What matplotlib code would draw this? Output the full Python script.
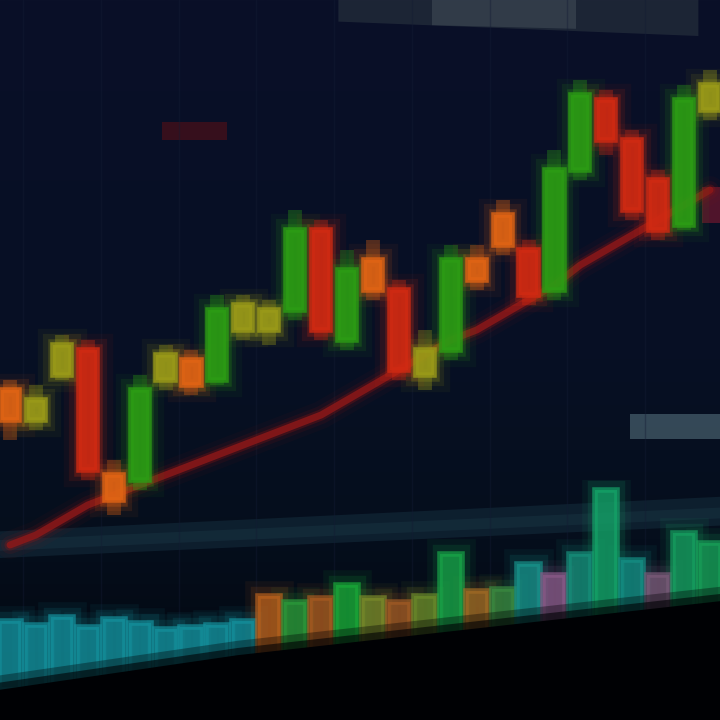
import matplotlib
matplotlib.use("Agg")
import matplotlib.pyplot as plt
import numpy as np
from matplotlib.colors import LinearSegmentedColormap

# ---- data ----
opens  = [73, 70, 74.5, 77, 64.5, 64, 74, 76, 74, 79, 79, 81, 89, 78, 86, 83, 74.5, 77, 86, 90.5, 87, 83, 95, 102, 98, 94, 89.5, 101]
closes = [70, 72, 77.5, 65, 62, 73, 76.5, 73.5, 81, 81.5, 81, 89, 79, 85, 83, 75, 77, 86, 84, 87.5, 82.5, 95, 102.5, 98, 91, 89, 102, 103.5]
highs  = [74, 73.5, 78.5, 78, 66, 74.5, 77.5, 77, 82.5, 82.5, 82, 91, 90, 87, 88, 84, 79, 87.5, 87.5, 92, 88, 97, 104, 103, 99, 95, 103.5, 105]
lows   = [68, 69, 74, 64, 60.5, 63, 73, 72.5, 73.5, 78, 77.5, 80, 78, 77, 82, 74, 73, 76, 83, 86.5, 81.5, 82, 94, 96.5, 90, 88, 89, 100]
moving_avg = [57.5, 58.5, 60, 61.5, 62.5, 63.5, 64.5, 65.5, 66.5, 67.5, 68.5, 69.5, 70.5, 72, 73.5, 75, 76.5, 78, 79, 80.5, 82, 83.5, 85.5, 87, 88.5, 90, 91.5, 93]
volumes = [33, 31, 35, 30, 34, 32, 29, 30, 31, 33, 45, 42, 44, 50, 44, 42, 45, 65, 47, 48, 60, 55, 65, 95, 62, 55, 75, 70]
volume_colors = ['#14909c'] * 10 + ['#b8601c', '#2a9a3a', '#a85a20', '#18a838', '#7a8a2a', '#a05a24', '#6a8a2a',
                                     '#18a448', '#a06a24', '#3a8a40', '#17928a', '#8a5a88', '#168f7a', '#14a468',
                                     '#148f84', '#7a5a78', '#16a060', '#18a058']

def candle_color(o, c):
    d = c - o
    if d > 3:
        return '#2c9c14'
    if d > 0:
        return '#9a9a18'
    if d >= -3:
        return '#e06414'
    return '#d02a12'

n = len(opens)
x = np.arange(n)

fig = plt.figure(figsize=(7.2, 7.2), dpi=100)
fig.patch.set_facecolor('#000000')

# background axes
bg = fig.add_axes([0, 0, 1, 1])
bg.set_xlim(0, 1); bg.set_ylim(0, 1)
grad = np.linspace(0, 1, 256).reshape(-1, 1)
cmap = LinearSegmentedColormap.from_list('bgc', ['#02060c', '#050e1c', '#071024', '#080f26', '#0a1028'])
bg.imshow(grad, extent=[0, 1, 0, 1], aspect='auto', cmap=cmap, origin='lower', zorder=0)
# separator band between panels (slightly tilted)
bg.fill([0, 1, 1, 0], [0.225, 0.27, 0.31, 0.262], color='#163040', alpha=0.5, lw=0, zorder=1)
bg.fill([0, 1, 1, 0], [0.235, 0.28, 0.295, 0.25], color='#1e3c4a', alpha=0.35, lw=0, zorder=1)
# top UI band
bg.fill([0.47, 0.97, 0.97, 0.47], [0.97, 0.95, 1.0, 1.0], color='#2a3440', alpha=0.6, lw=0, zorder=1)
bg.fill([0.6, 0.8, 0.8, 0.6], [0.965, 0.96, 1.0, 1.0], color='#46525c', alpha=0.5, lw=0, zorder=1)
# price label boxes
bg.add_patch(plt.Rectangle((0.225, 0.805), 0.09, 0.025, color='#4a1018', alpha=0.7, lw=0, zorder=1))
bg.add_patch(plt.Rectangle((0.875, 0.39), 0.125, 0.035, color='#5a7884', alpha=0.55, lw=0, zorder=1))
bg.add_patch(plt.Rectangle((0.975, 0.69), 0.025, 0.05, color='#801830', alpha=0.6, lw=0, zorder=1))
bg.axis('off')

# price axes
ax = fig.add_axes([0, 0, 1, 1])
ax.patch.set_alpha(0)
ax.set_xlim(-0.386, 27.386)
ax.set_ylim(40, 112)
for gx in np.arange(0, n, 3):
    ax.axvline(gx + 0.5, color='#141c34', lw=1, alpha=0.4, zorder=1)

# moving average with glow
for lw, a in [(20, 0.06), (13, 0.12), (8, 0.3)]:
    ax.plot(x, moving_avg, color='#8a1414', lw=lw, alpha=a, solid_capstyle='round', zorder=2)
ax.plot(x, moving_avg, color='#901818', lw=5, alpha=0.8, solid_capstyle='round', zorder=2)

cols = [candle_color(o, c) for o, c in zip(opens, closes)]
bottoms = [min(o, c) for o, c in zip(opens, closes)]
heights = [abs(c - o) for o, c in zip(opens, closes)]
for i in range(n):
    ax.vlines(x[i], lows[i], highs[i], color=cols[i], lw=10, alpha=0.35, zorder=3)
for lw, a in [(24, 0.06), (16, 0.12), (9, 0.25)]:
    ax.bar(x, heights, bottom=bottoms, width=0.6, color=cols, edgecolor=cols, linewidth=lw, alpha=a, zorder=3)
ax.bar(x, heights, bottom=bottoms, width=0.7, color=cols, edgecolor=cols, linewidth=4, alpha=0.8, zorder=4)
ax.axis('off')

# volume axes
vax = fig.add_axes([0, 30 / 720, 1, 210 / 720])
vax.patch.set_alpha(0)
vax.set_xlim(-0.386, 27.386)
vax.set_ylim(0, 100)
for lw, a in [(22, 0.08), (14, 0.15)]:
    vax.bar(x, volumes, width=0.7, color=volume_colors, edgecolor=volume_colors, linewidth=lw, alpha=a, zorder=2)
vax.bar(x, volumes, width=0.85, color=volume_colors, edgecolor=volume_colors, linewidth=4, alpha=0.7, zorder=3)
vax.axis('off')

# dark foreground at bottom (tilted edge)
fg = fig.add_axes([0, 0, 1, 1])
fg.patch.set_alpha(0)
fg.set_xlim(0, 1); fg.set_ylim(0, 1)
for off, a in [(0.02, 0.35), (0.01, 0.6), (0.0, 1.0)]:
    fg.fill([0, 0.33, 1, 1, 0], [0.042 + off, 0.09 + off, 0.165 + off, 0, 0], color='#000104', alpha=a, lw=0)
fg.axis('off')

fig.savefig('out.png', dpi=100, facecolor=fig.get_facecolor())
